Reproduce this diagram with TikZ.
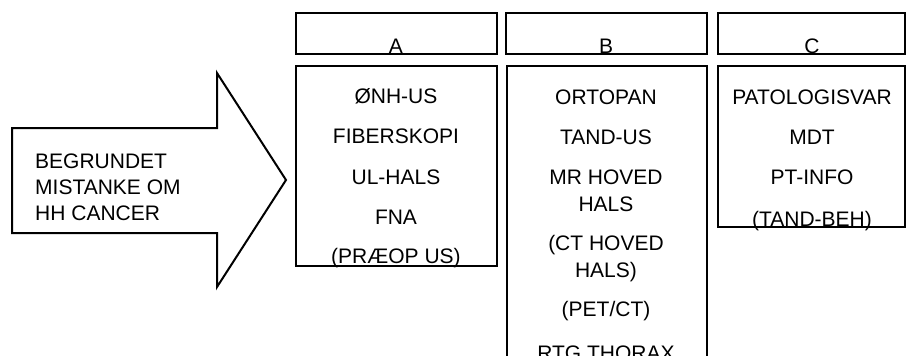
\documentclass[tikz,border=0pt]{standalone}
\usepackage{fontspec}
\setmainfont{Liberation Sans}
\begin{document}
\begin{tikzpicture}[x=1pt,y=-1pt,
  box/.style={draw=black,line width=2pt},
  lbl/.style={inner sep=0pt,anchor=base,font=\fontsize{21}{25}\selectfont},
  llbl/.style={inner sep=0pt,anchor=base west,font=\fontsize{21}{25}\selectfont}]
\useasboundingbox (0,0) rectangle (906,356);
\begin{scope}
\clip (0,0) rectangle (906,356);
% arrow
\draw[box,line join=miter] (12,128) -- (217,128) -- (217,73) -- (286,180) -- (217,287) -- (217,233) -- (12,233) -- cycle;
\node[llbl] (t1) at (35,168) {BEGRUNDET};
\node[llbl] (t2) at (35,194) {MISTANKE OM};
\node[llbl] (t3) at (35,220) {HH CANCER};
% headers
\draw[box] (296,13) rectangle (497,54);
\draw[box] (506,13) rectangle (707,54);
\draw[box] (718,13) rectangle (905,54);
% bodies
\draw[box] (296,66) rectangle (497,266);
\draw[box] (507,66) rectangle (707,380);
\draw[box] (718,66) rectangle (905,227);
% header labels
\node[lbl] (ha) at (396,53) {A};
\node[lbl] (hb) at (606,53) {B};
\node[lbl] (hc) at (812,53) {C};
% column A
\node[lbl] (a1) at (396,103) {ØNH-US};
\node[lbl] (a2) at (396,143) {FIBERSKOPI};
\node[lbl] (a3) at (396,184) {UL-HALS};
\node[lbl] (a4) at (396,224) {FNA};
\node[lbl] (a5) at (396,263) {(PRÆOP US)};
% column B
\node[lbl] (b1) at (606,104) {ORTOPAN};
\node[lbl] (b2) at (606,144) {TAND-US};
\node[lbl] (b3) at (606,184) {MR HOVED};
\node[lbl] (b4) at (606,211) {HALS};
\node[lbl] (b5) at (606,250) {(CT HOVED};
\node[lbl] (b6) at (606,277) {HALS)};
\node[lbl] (b7) at (606,316) {(PET/CT)};
\node[lbl] (b8) at (606,360) {RTG THORAX};
% column C
\node[lbl] (c1) at (812,104) {PATOLOGISVAR};
\node[lbl] (c2) at (812,144) {MDT};
\node[lbl] (c3) at (812,184) {PT-INFO};
\node[lbl] (c4) at (812,226) {(TAND-BEH)};
\end{scope}
\end{tikzpicture}
\end{document}
